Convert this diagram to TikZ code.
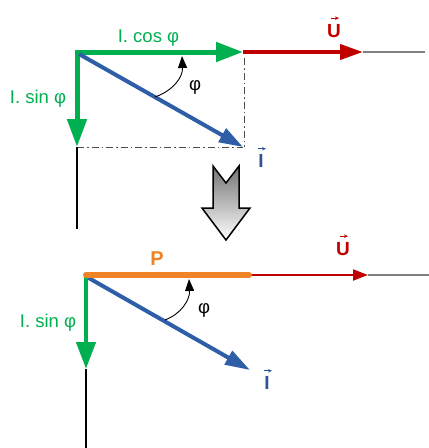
\documentclass[tikz,border=0pt]{standalone}
\usepackage{fontspec}
\setmainfont{Liberation Sans}
\usetikzlibrary{arrows.meta}
\definecolor{cgreen}{RGB}{0,176,80}
\definecolor{cred}{RGB}{192,0,0}
\definecolor{cblue}{RGB}{46,94,168}
\definecolor{cblueT}{RGB}{47,85,151}
\definecolor{corange}{RGB}{240,130,40}
\definecolor{cgray}{RGB}{128,128,128}
\tikzset{
  lbl/.style={font=\fontsize{18.5}{22}\selectfont},
  vlbl/.style={font=\fontsize{19}{22}\selectfont\bfseries,inner sep=0pt},
  vecarrow/.style={line width=0.8pt,-{Stealth[length=4pt,width=3.5pt]}},
  dd/.style={draw=black!70,line width=1pt,dash pattern=on 7pt off 3pt on 1.5pt off 3pt},
  axis/.style={draw=black,line width=1.2pt},
  gline/.style={draw=cgray,line width=1.5pt},
  arcarrow/.style={draw=black,line width=0.9pt,-{Triangle[length=12pt,width=9pt]}},
}
\begin{document}
\begin{tikzpicture}[x=1pt,y=-1pt]
\useasboundingbox (0,0) rectangle (429,448);
% ---------- top diagram ----------
\coordinate (O1) at (77,52);
\coordinate (C1) at (243,52);
\coordinate (U1) at (363,52);
\coordinate (E1) at (425,52);
\coordinate (S1) at (77,147);
\coordinate (I1) at (243,147);
\coordinate (B1) at (77,229);
\coordinate (D1) at (244,58);
\coordinate (D1b) at (244,147);
\draw[dd] (S1) -- (I1);
\draw[dd] (D1) -- (D1b);
\draw[axis] (S1) -- (B1);
\draw[gline] (U1) -- (E1);
\draw[draw=cred,line width=4pt,-{Triangle[length=23pt,width=15pt]}] (C1) -- (U1);
\draw[draw=cgreen,line width=5pt,-{Triangle[length=27pt,width=19pt]}] (74.5,52) -- (C1);
\draw[draw=cgreen,line width=5pt,-{Triangle[length=28pt,width=19pt]}] (77,49.5) -- (S1);
\draw[draw=cblue,line width=4pt,-{Triangle[length=24pt,width=15pt]}] (79,54) -- (I1);
\coordinate (A1s) at (155,97);
\coordinate (A1e) at (182,56);
\draw[arcarrow] (A1s) .. controls (172,91) and (183,78) .. (A1e);
\node[lbl,text=cgreen,anchor=base] (tcos) at (148.5,42) {I. cos φ};
\node[lbl,text=cgreen,anchor=base] (tsin1) at (38,103) {I. sin φ};
\node[lbl] (phi1) at (195,87) {φ};
\node[vlbl,text=cred] (tU1) at (334,31) {U};
\draw[vecarrow,cred] ([xshift=-3pt,yshift=6pt]tU1.north) -- ([xshift=5pt,yshift=6pt]tU1.north);
\node[vlbl,text=cblueT] (tI1) at (261,160.5) {I};
\draw[vecarrow,cblueT] ([xshift=-3pt,yshift=5pt]tI1.north) -- ([xshift=5pt,yshift=5pt]tI1.north);
% ---------- big arrow ----------
\shade[top color=black!55,bottom color=white,draw=black,line width=1.5pt]
  (213,166) -- (226,183) -- (239,166) -- (239,208) -- (250,208) -- (226,240) -- (202,208) -- (213,208) -- cycle;
% ---------- bottom diagram ----------
\coordinate (O2) at (86,275);
\coordinate (P2) at (249,275);
\coordinate (U2) at (368,275);
\coordinate (E2) at (429,275);
\coordinate (S2) at (86,369);
\coordinate (B2) at (86,448);
\coordinate (I2) at (250,370);
\draw[axis] (S2) -- (B2);
\draw[gline] (U2) -- (E2);
\draw[draw=cred,line width=2pt,-{Triangle[length=15pt,width=11pt]}] (P2) -- (U2);
\draw[draw=cblue,line width=4pt,-{Triangle[length=25pt,width=15pt]}] (87,277) -- (I2);
\draw[draw=cgreen,line width=4.5pt,-{Triangle[length=27pt,width=19pt]}] (86,273) -- (S2);
\draw[draw=corange,line width=6pt,line cap=round] (O2) -- (P2);
\coordinate (A2s) at (165,320);
\coordinate (A2e) at (189,279);
\draw[arcarrow] (A2s) .. controls (181,314) and (190,300) .. (A2e);
\node[text=corange,font=\fontsize{20}{24}\selectfont\bfseries,anchor=base] (tP) at (157,265) {P};
\node[lbl,text=cgreen,anchor=base] (tsin2) at (48,327) {I. sin φ};
\node[lbl] (phi2) at (204,310) {φ};
\node[vlbl,text=cred] (tU2) at (343,249) {U};
\draw[vecarrow,cred] ([xshift=-3pt,yshift=6pt]tU2.north) -- ([xshift=5pt,yshift=6pt]tU2.north);
\node[vlbl,text=cblueT] (tI2) at (267,382.5) {I};
\draw[vecarrow,cblueT] ([xshift=-3pt,yshift=5pt]tI2.north) -- ([xshift=5pt,yshift=5pt]tI2.north);
\end{tikzpicture}
\end{document}
